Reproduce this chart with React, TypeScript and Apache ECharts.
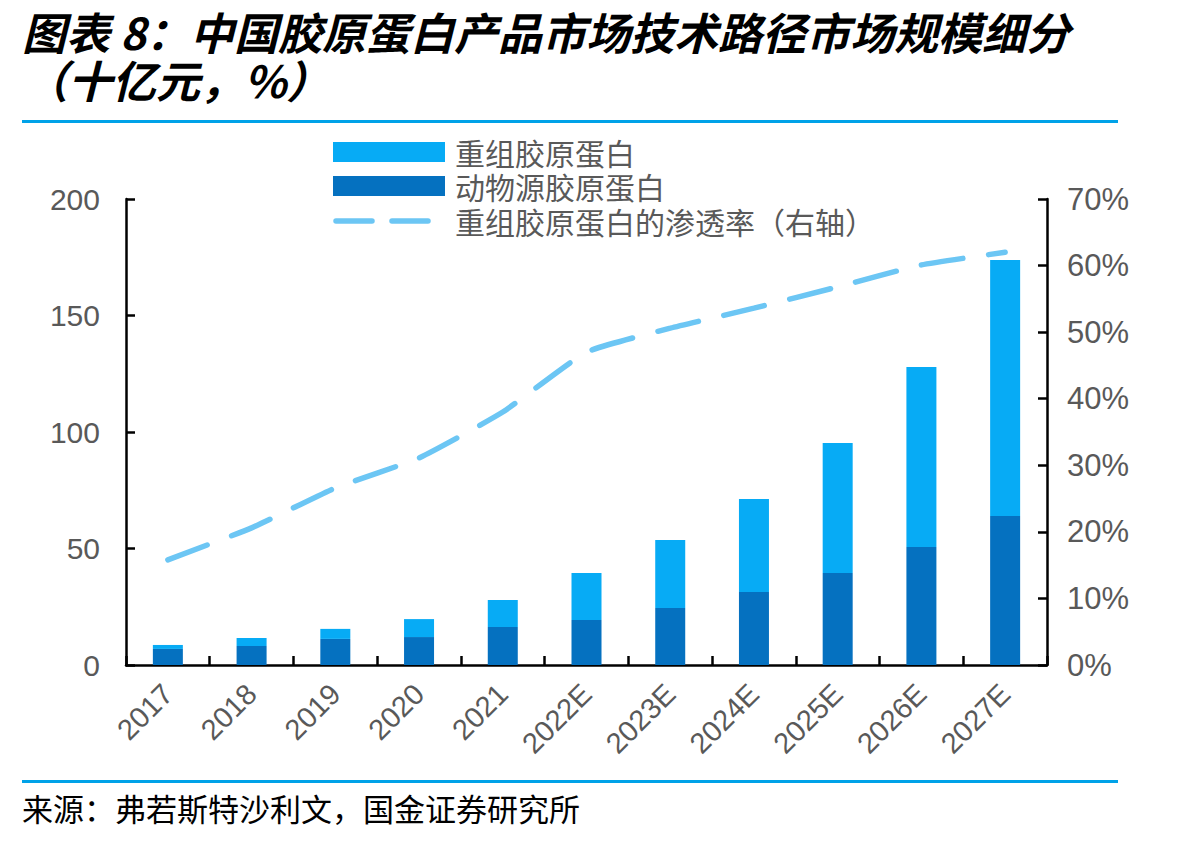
import React, { useEffect, useRef } from "react";
import * as echarts from "echarts";

const categories = ["2017", "2018", "2019", "2020", "2021", "2022E", "2023E", "2024E", "2025E", "2026E", "2027E"];
// 十亿元
const animalCollagen = [6.9, 8.2, 11.2, 12.0, 16.3, 19.3, 24.5, 31.3, 39.5, 50.6, 64.0];
const recombinantCollagen = [1.7, 3.4, 4.3, 7.7, 11.6, 20.2, 29.1, 39.9, 55.8, 77.3, 109.8];
// %
const penetrationRate = [15.8, 20.6, 26.6, 31.1, 38.0, 47.0, 50.6, 53.6, 56.8, 60.1, 62.0];

const leftTicks = { min: 0, max: 200, interval: 50 };
const rightTicks = { min: 0, max: 70, interval: 10 };

const seriesNames = ["重组胶原蛋白", "动物源胶原蛋白", "重组胶原蛋白的渗透率（右轴）"];

const titleLine1 = "图表 8：中国胶原蛋白产品市场技术路径市场规模细分";
const titleLine2 = "（十亿元，%）";
const sourceText = "来源：弗若斯特沙利文，国金证券研究所";

const CJK = '"Noto Sans CJK SC", "Liberation Sans", sans-serif';
const NUM = '"Liberation Sans", Arial, sans-serif';
const GRAY = "#595959";
const LIGHT_BLUE = "#07ABF5";
const DARK_BLUE = "#0571C0";
const LINE_COLOR = "#6CC6F4";
const DASH = [42, 26];

// hand-built legend: swatch + label per row
const legendX = 333;
const legendRowY = [152, 186, 221];
const swatchW = 112;

function legendGraphics() {
  const els: any[] = [];
  els.push({
    type: "rect",
    shape: { x: legendX, y: legendRowY[0] - 10, width: swatchW, height: 20 },
    style: { fill: LIGHT_BLUE },
  });
  els.push({
    type: "rect",
    shape: { x: legendX, y: legendRowY[1] - 10, width: swatchW, height: 20 },
    style: { fill: DARK_BLUE },
  });
  els.push({
    type: "line",
    shape: { x1: legendX + 3, y1: legendRowY[2], x2: legendX + swatchW - 3, y2: legendRowY[2] },
    style: { stroke: LINE_COLOR, lineWidth: 5.5, lineDash: [36, 20], lineCap: "round" },
  });
  seriesNames.forEach((name, i) => {
    els.push({
      type: "text",
      x: legendX + swatchW + 10,
      y: legendRowY[i],
      style: {
        text: name,
        font: `30px ${CJK}`,
        fill: GRAY,
        verticalAlign: "middle",
        align: "left",
      },
    });
  });
  return els;
}

export default function App() {
  const ref = useRef<HTMLDivElement>(null);

  useEffect(() => {
    if (!ref.current) return;
    const chart = echarts.init(ref.current, null, { renderer: "svg" });

    chart.setOption({
      animation: false,
      backgroundColor: "#ffffff",
      graphic: [
        {
          type: "text",
          left: 22,
          top: 8,
          style: { text: titleLine1, font: `italic bold 44px ${CJK}`, lineHeight: 46, fill: "#000" },
        },
        {
          type: "text",
          left: 24,
          top: 56,
          style: { text: titleLine2, font: `italic bold 44px ${CJK}`, lineHeight: 46, fill: "#000" },
        },
        {
          type: "rect",
          shape: { x: 22, y: 120, width: 1096, height: 3 },
          style: { fill: "#00A2E8" },
        },
        {
          type: "rect",
          shape: { x: 22, y: 780, width: 1096, height: 3 },
          style: { fill: "#00A2E8" },
        },
        {
          type: "text",
          left: 22,
          top: 792,
          style: { text: sourceText, font: `31px ${CJK}`, fill: "#000" },
        },
        ...legendGraphics(),
      ],
      grid: { left: 126, right: 154, top: 199, bottom: 176, containLabel: false },
      xAxis: {
        type: "category",
        data: categories,
        axisLine: { show: true, lineStyle: { color: "#000", width: 2.5 } },
        axisTick: { show: true, inside: true, length: 9, lineStyle: { color: "#000", width: 2.5 } },
        axisLabel: {
          rotate: 45,
          margin: 24,
          fontFamily: NUM,
          fontSize: 29,
          color: GRAY,
        },
      },
      yAxis: [
        {
          type: "value",
          ...leftTicks,
          axisLine: { show: true, lineStyle: { color: "#000", width: 2.5 } },
          axisTick: { show: true, inside: true, length: 9, lineStyle: { color: "#000", width: 2.5 } },
          splitLine: { show: false },
          axisLabel: { margin: 26, fontFamily: NUM, fontSize: 30, color: GRAY },
        },
        {
          type: "value",
          position: "right",
          ...rightTicks,
          axisLine: { show: true, lineStyle: { color: "#000", width: 2.5 } },
          axisTick: { show: true, inside: true, length: 9, lineStyle: { color: "#000", width: 2.5 } },
          splitLine: { show: false },
          axisLabel: {
            margin: 20,
            fontFamily: NUM,
            fontSize: 31,
            color: GRAY,
            formatter: "{value}%",
          },
        },
      ],
      series: [
        {
          name: seriesNames[1],
          type: "bar",
          stack: "total",
          barWidth: 30,
          data: animalCollagen,
          itemStyle: { color: DARK_BLUE },
        },
        {
          name: seriesNames[0],
          type: "bar",
          stack: "total",
          barWidth: 30,
          data: recombinantCollagen,
          itemStyle: { color: LIGHT_BLUE },
        },
        {
          name: seriesNames[2],
          type: "line",
          yAxisIndex: 1,
          data: penetrationRate,
          smooth: 0.15,
          symbol: "none",
          lineStyle: { color: LINE_COLOR, width: 5.5, type: DASH, cap: "round" },
          itemStyle: { color: LINE_COLOR },
        },
      ],
    });

    return () => chart.dispose();
  }, []);

  return (
    <div
      ref={ref}
      style={{ position: "fixed", left: 0, top: 0, width: 1201, height: 841 }}
    />
  );
}
